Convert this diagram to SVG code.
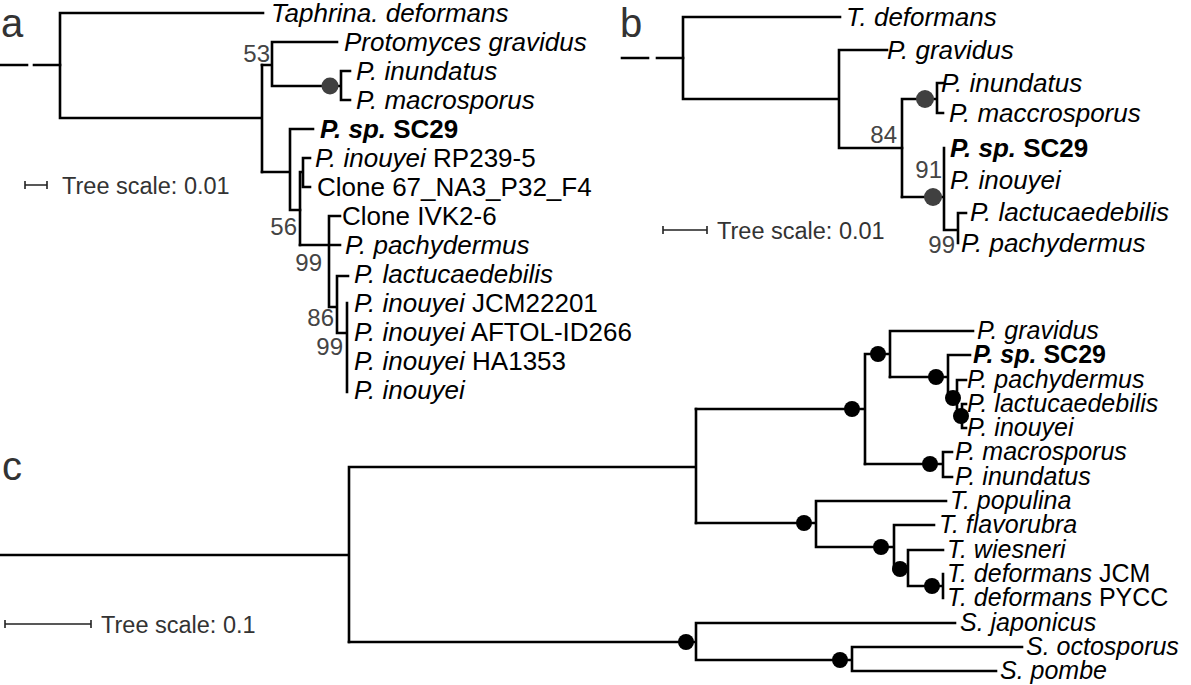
<svg xmlns="http://www.w3.org/2000/svg" width="1191" height="685" viewBox="0 0 1191 685">
<style>
.br{stroke:#000;stroke-width:2.6;fill:none;stroke-linecap:square}
.sb{stroke:#222;stroke-width:1.6;fill:none}
text{font-family:"Liberation Sans",Arial,Helvetica,sans-serif}
.lf{font-size:26px;fill:#000}
.lc{font-size:25px;fill:#000}
.it{font-style:italic}
.bd{font-weight:bold}
.bs{font-size:24px;fill:#444;text-anchor:end}
.sc{font-size:23.5px;fill:#333}
.pl{font-size:40px;fill:#333}
.gd{fill:#404040}
.kd{fill:#000}
</style>
<rect width="1191" height="685" fill="#fff"/>

<!-- panel labels -->
<text class="pl" x="1" y="37">a</text>
<text class="pl" x="620" y="37">b</text>
<text class="pl" x="2" y="480">c</text>

<!-- ================= connectors ================= -->
<g id="connectors">
  <!-- panel a -->
  <path class="br" d="M0 65H27M34 65H60"/>
  <path class="br" d="M60 13V118M60 13H263M60 118H262M262 65V172"/>
  <path class="br" d="M262 65H272M272 42V86M272 42H337M272 86H341M341 71V100M341 71H350M341 100H350"/>
  <path class="br" d="M262 172H290M290 129V210M290 129H313M290 210H300"/>
  <path class="br" d="M300 172V245M300 172H303M303 158V187M303 158H310M303 187H310"/>
  <path class="br" d="M300 245H340M329 216V307M329 216H340M329 307H337M337 276V333M337 276H348M337 333H347M347 303V392"/>
  <!-- panel a scale -->
  <path class="sb" d="M25 185H47M25 181V189M47 181V189"/>

  <!-- panel b -->
  <path class="br" d="M622 58H648M657 58H683"/>
  <path class="br" d="M683 17V99M683 17H840M683 99H839M839 50V148M839 50H887M839 148H902"/>
  <path class="br" d="M902 99V197M902 99H937M937 83V113M937 83H943M937 113H943"/>
  <path class="br" d="M902 197H944M944 148V230M944 230H958M958 213V243M958 213H966"/>
  <path class="sb" d="M663 230H707M663 226V234M707 226V234"/>

  <!-- panel c -->
  <path class="br" d="M0 555H349M349 467V642M349 467H696M696 409V523"/>
  <path class="br" d="M696 409H865M865 354V464M865 354H890M890 331V377M890 331H973"/>
  <path class="br" d="M890 377H948M948 355V398M948 355H970M948 398H957M957 380V416M957 380H966M957 416H962M962 404V428M962 404H966M962 428H966"/>
  <path class="br" d="M865 464H943M943 452V477M943 452H952M943 477H952"/>
  <path class="br" d="M696 523H816M816 501V547M816 501H946M816 547H894M894 525V570M894 525H934"/>
  <path class="br" d="M894 570H908M908 550V586M908 550H943M908 586H943M943 574V598"/>
  <path class="br" d="M349 642H696M696 623V660M696 623H955M696 660H852M852 647V671M852 647H1022M852 671H996"/>
  <path class="sb" d="M5 624H91M5 620V628M91 620V628"/>
</g>

<!-- ================= panel a nodes ================= -->
<g id="a-internal">
  <g id="a-n53"><text class="bs" x="270" y="62">53</text></g>
  <g id="a-n-inund"><circle class="gd" cx="330" cy="86" r="8.5"/></g>
  <g id="a-n56"><text class="bs" x="297" y="235">56</text></g>
  <g id="a-n99a"><text class="bs" x="322" y="271">99</text></g>
  <g id="a-n86"><text class="bs" x="334" y="326">86</text></g>
  <g id="a-n99b"><text class="bs" x="343" y="355">99</text></g>
</g>
<g id="a-leaves">
  <g id="a-taphrina"><text class="lf it" x="271" y="22">Taphrina. deformans</text></g>
  <g id="a-protomyces"><text class="lf it" x="344" y="51">Protomyces gravidus</text></g>
  <g id="a-inundatus"><text class="lf it" x="356" y="80">P. inundatus</text></g>
  <g id="a-macrosporus"><text class="lf it" x="356" y="109">P. macrosporus</text></g>
  <g id="a-sc29"><text class="lf bd" x="320" y="138"><tspan class="it">P. sp.</tspan> SC29</text></g>
  <g id="a-rp239"><text class="lf" x="315" y="167"><tspan class="it">P. inouyei</tspan> RP239-5</text></g>
  <g id="a-clone67"><text class="lf" x="317" y="196">Clone 67_NA3_P32_F4</text></g>
  <g id="a-ivk"><text class="lf" x="342" y="225">Clone IVK2-6</text></g>
  <g id="a-pachy"><text class="lf it" x="345" y="254">P. pachydermus</text></g>
  <g id="a-lactu"><text class="lf it" x="354" y="283">P. lactucaedebilis</text></g>
  <g id="a-jcm"><text class="lf" x="354" y="312"><tspan class="it">P. inouyei</tspan> JCM22201</text></g>
  <g id="a-aftol"><text class="lf" x="354" y="341"><tspan class="it">P. inouyei</tspan> AFTOL-ID266</text></g>
  <g id="a-ha"><text class="lf" x="354" y="370"><tspan class="it">P. inouyei</tspan> HA1353</text></g>
  <g id="a-inouyei"><text class="lf it" x="354" y="399">P. inouyei</text></g>
</g>
<g id="a-scale"><text class="sc" x="62" y="194">Tree scale: 0.01</text></g>

<!-- ================= panel b nodes ================= -->
<g id="b-internal">
  <g id="b-n84"><text class="bs" x="897" y="143">84</text></g>
  <g id="b-n-inund"><circle class="gd" cx="925" cy="99" r="9"/></g>
  <g id="b-n91"><circle class="gd" cx="933" cy="197" r="9"/><text class="bs" x="942" y="178">91</text></g>
  <g id="b-n99"><text class="bs" x="955" y="253">99</text></g>
</g>
<g id="b-leaves">
  <g id="b-tdef"><text class="lf it" x="846" y="26">T. deformans</text></g>
  <g id="b-grav"><text class="lf it" x="887" y="59">P. gravidus</text></g>
  <g id="b-inund"><text class="lf it" x="941" y="92">P. inundatus</text></g>
  <g id="b-macc"><text class="lf it" x="949" y="122">P. maccrosporus</text></g>
  <g id="b-sc29"><text class="lf bd" x="950" y="157"><tspan class="it">P. sp.</tspan> SC29</text></g>
  <g id="b-inou"><text class="lf it" x="950" y="189">P. inouyei</text></g>
  <g id="b-lactu"><text class="lf it" x="970" y="221">P. lactucaedebilis</text></g>
  <g id="b-pachy"><text class="lf it" x="961" y="252">P. pachydermus</text></g>
</g>
<g id="b-scale"><text class="sc" x="717" y="239">Tree scale: 0.01</text></g>

<!-- ================= panel c nodes ================= -->
<g id="c-internal">
  <circle class="kd" cx="852" cy="409" r="8"/>
  <circle class="kd" cx="878" cy="354" r="8"/>
  <circle class="kd" cx="936" cy="377" r="8"/>
  <circle class="kd" cx="953" cy="398" r="8"/>
  <circle class="kd" cx="961" cy="416" r="8"/>
  <circle class="kd" cx="930" cy="464" r="8"/>
  <circle class="kd" cx="804" cy="523" r="8"/>
  <circle class="kd" cx="881" cy="547" r="8"/>
  <circle class="kd" cx="900" cy="569" r="8"/>
  <circle class="kd" cx="932" cy="586" r="8"/>
  <circle class="kd" cx="686" cy="642" r="8"/>
  <circle class="kd" cx="840" cy="660" r="8"/>
</g>
<g id="c-leaves">
  <g id="c-grav"><text class="lc it" x="977" y="339">P. gravidus</text></g>
  <g id="c-sc29"><text class="lc bd" x="973" y="363"><tspan class="it">P. sp.</tspan> SC29</text></g>
  <g id="c-pachy"><text class="lc it" x="967" y="388">P. pachydermus</text></g>
  <g id="c-lactu"><text class="lc it" x="967" y="412">P. lactucaedebilis</text></g>
  <g id="c-inou"><text class="lc it" x="967" y="436">P. inouyei</text></g>
  <g id="c-macro"><text class="lc it" x="955" y="460">P. macrosporus</text></g>
  <g id="c-inund"><text class="lc it" x="955" y="485">P. inundatus</text></g>
  <g id="c-popul"><text class="lc it" x="950" y="509">T. populina</text></g>
  <g id="c-flavo"><text class="lc it" x="939" y="533">T. flavorubra</text></g>
  <g id="c-wies"><text class="lc it" x="947" y="558">T. wiesneri</text></g>
  <g id="c-defj"><text class="lc" x="947" y="582"><tspan class="it">T. deformans</tspan> JCM</text></g>
  <g id="c-defp"><text class="lc" x="947" y="606"><tspan class="it">T. deformans</tspan> PYCC</text></g>
  <g id="c-japon"><text class="lc it" x="960" y="631">S. japonicus</text></g>
  <g id="c-octo"><text class="lc it" x="1026" y="655">S. octosporus</text></g>
  <g id="c-pombe"><text class="lc it" x="1000" y="679">S. pombe</text></g>
</g>
<g id="c-scale"><text class="sc" x="101" y="633">Tree scale: 0.1</text></g>
</svg>
